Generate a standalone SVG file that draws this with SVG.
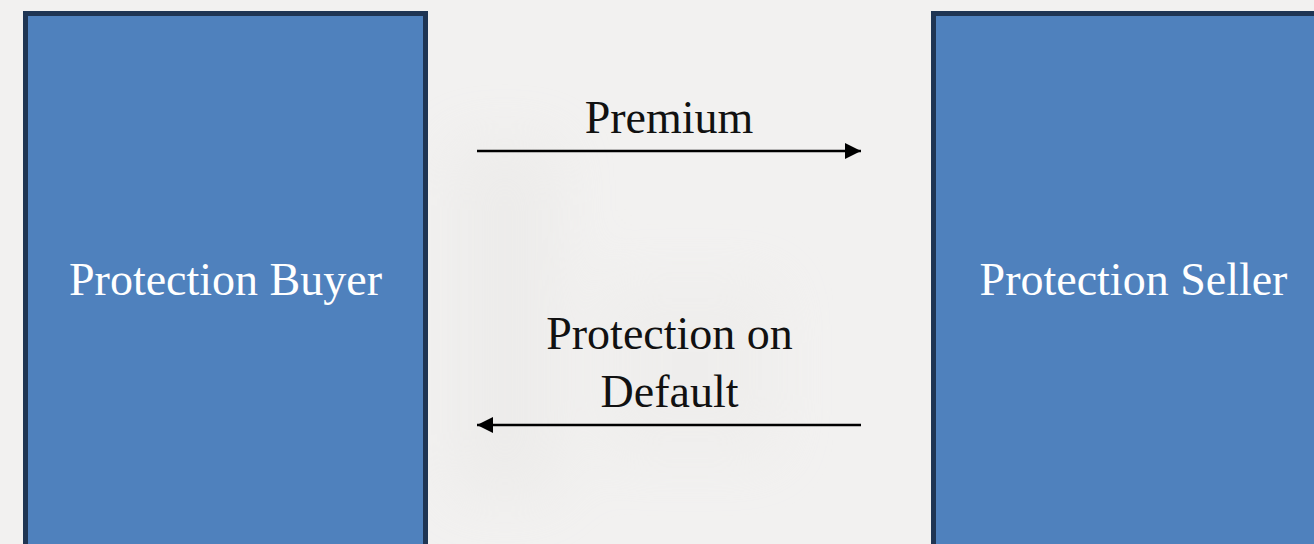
<svg xmlns="http://www.w3.org/2000/svg" width="1314" height="544" viewBox="0 0 1314 544">
  <style>
    .party { fill: #4f81bd; stroke: #1f3553; stroke-width: 5; }
    .party-label { font-family: "Liberation Serif", "Times New Roman", serif; font-size: 46px; fill: #ffffff; text-anchor: middle; }
    .flow-label { font-family: "Liberation Serif", "Times New Roman", serif; font-size: 46px; fill: #111111; text-anchor: middle; }
    .flow { stroke: #000000; stroke-width: 2.5; fill: none; }
  </style>
  <defs>
    <marker id="arrow" viewBox="0 0 16 16" refX="16" refY="8" markerWidth="16" markerHeight="16" markerUnits="userSpaceOnUse" orient="auto">
      <path d="M0,0 L16,8 L0,16 Z" fill="#000000"/>
    </marker>
    <filter id="haze" x="-30%" y="-30%" width="160%" height="160%">
      <feGaussianBlur stdDeviation="30"/>
    </filter>
  </defs>

  <!-- backdrop -->
  <rect x="0" y="0" width="1314" height="544" fill="#f2f1f0"/>
  <g filter="url(#haze)" opacity="0.35">
    <rect x="450" y="140" width="110" height="360" fill="#e4e3e1"/>
    <rect x="600" y="280" width="180" height="180" fill="#e9e8e6"/>
  </g>

  <!-- left party -->
  <g id="protection-buyer">
    <rect class="party" x="25.5" y="13.5" width="400" height="560"/>
    <text class="party-label" x="225.5" y="295">Protection Buyer</text>
  </g>

  <!-- right party -->
  <g id="protection-seller">
    <rect class="party" x="933.5" y="13.5" width="400" height="560"/>
    <text class="party-label" x="1133.5" y="295">Protection Seller</text>
  </g>

  <!-- payment flows -->
  <g id="connectors">
    <line class="flow" x1="477" y1="151" x2="861" y2="151" marker-end="url(#arrow)"/>
    <text class="flow-label" x="669" y="133">Premium</text>
    <line class="flow" x1="861" y1="425" x2="477" y2="425" marker-end="url(#arrow)"/>
    <text class="flow-label" x="669.5" y="349">Protection on</text>
    <text class="flow-label" x="669.5" y="407">Default</text>
  </g>
</svg>
